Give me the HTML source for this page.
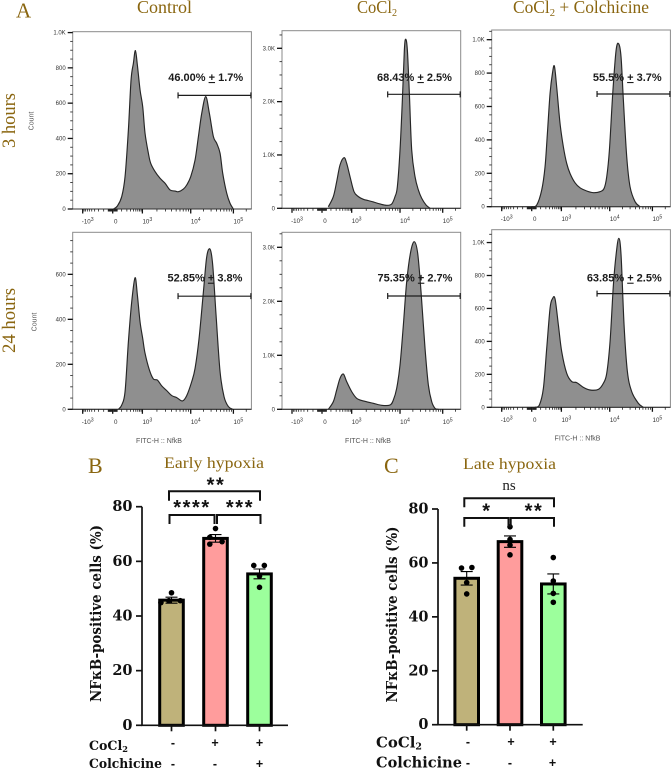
<!DOCTYPE html>
<html lang="en">
<head>
<meta charset="utf-8">
<title>NFκB flow cytometry figure</title>
<style>
html,body{margin:0;padding:0;background:#fff;width:671px;height:771px;overflow:hidden}
svg{display:block;filter:blur(0.3px)}
.head{font-family:"Liberation Serif",serif;fill:#8a6610}
.serifb{font-family:"DejaVu Serif","Liberation Serif",serif;font-weight:700;fill:#111}
.star{font-family:"Liberation Sans",sans-serif;font-weight:700;font-size:20px;letter-spacing:1.6px;fill:#111;text-anchor:middle}
.sym{font-family:"Liberation Sans",sans-serif;font-weight:700;font-size:12.5px;fill:#111;text-anchor:middle}
.small{font-family:"Liberation Sans",sans-serif;font-size:7px;fill:#555}
</style>
</head>
<body>
<svg id="figure" xmlns="http://www.w3.org/2000/svg" width="671" height="771" viewBox="0 0 671 771">
  <rect x="0" y="0" width="671" height="771" fill="#fff"/>

  <text class="head" x="16" y="17.5" font-size="21">A</text>
  <text class="head" x="137" y="13" font-size="18" textLength="55" lengthAdjust="spacingAndGlyphs">Control</text>
  <text class="head" x="357" y="13" font-size="18" textLength="40" lengthAdjust="spacingAndGlyphs">CoCl<tspan font-size="11" dy="3">2</tspan></text>
  <text class="head" x="513" y="13" font-size="18" textLength="136" lengthAdjust="spacingAndGlyphs">CoCl<tspan font-size="11" dy="3">2</tspan><tspan dy="-3"> + Colchicine</tspan></text>
  <text class="head" transform="translate(15,148) rotate(-90)" font-size="18.5" textLength="55" lengthAdjust="spacingAndGlyphs">3 hours</text>
  <text class="head" transform="translate(15,353) rotate(-90)" font-size="18.5" textLength="65" lengthAdjust="spacingAndGlyphs">24 hours</text>

  <g id="histograms">
    <text class="small" text-anchor="middle" transform="translate(33.5,121) rotate(-90)">Count</text>
    <text class="small" text-anchor="middle" transform="translate(36.5,322) rotate(-90)">Count</text>
    <text class="small" text-anchor="middle" x="159" y="443">FITC-H :: NfkB</text>
    <text class="small" text-anchor="middle" x="368" y="443">FITC-H :: NfkB</text>
    <text class="small" text-anchor="middle" x="577.5" y="440.5">FITC-H :: NfkB</text>
  </g>

  <text class="head" x="88" y="473" font-size="22">B</text>
  <text class="head" x="164" y="468" font-size="15.5" textLength="100" lengthAdjust="spacingAndGlyphs">Early hypoxia</text>
  <g id="chartB"></g>
  <text class="serifb" text-anchor="start" transform="translate(101,702) rotate(-90)" font-size="15" textLength="177" lengthAdjust="spacingAndGlyphs">NFκB-positive cells (%)</text>
  <text class="star" x="216" y="491.5">**</text>
  <text class="star" x="192" y="514">****</text>
  <text class="star" x="240" y="514">***</text>
  <text class="serifb" x="89" y="750" font-size="13" textLength="39" lengthAdjust="spacingAndGlyphs">CoCl<tspan font-size="8.5" dy="2">2</tspan></text>
  <text class="serifb" x="89" y="768" font-size="13" textLength="73" lengthAdjust="spacingAndGlyphs">Colchicine</text>
  <text class="sym" x="173" y="747">-</text>
  <text class="sym" x="215" y="747">+</text>
  <text class="sym" x="259.5" y="747">+</text>
  <text class="sym" x="173" y="768">-</text>
  <text class="sym" x="215" y="768">-</text>
  <text class="sym" x="259.5" y="768">+</text>

  <text class="head" x="384" y="473" font-size="22">C</text>
  <text class="head" x="463" y="469" font-size="15.5" textLength="93" lengthAdjust="spacingAndGlyphs">Late hypoxia</text>
  <g id="chartC"></g>
  <text class="serifb" transform="translate(397,702.5) rotate(-90)" font-size="15" textLength="176" lengthAdjust="spacingAndGlyphs">NFκB-positive cells (%)</text>
  <text x="509" y="490" text-anchor="middle" font-family="Liberation Serif, serif" font-size="15" fill="#222">ns</text>
  <text class="star" x="487" y="517.5">*</text>
  <text class="star" x="534" y="517.5">**</text>
  <text class="serifb" x="376" y="747.5" font-size="15" textLength="46" lengthAdjust="spacingAndGlyphs">CoCl<tspan font-size="9.5" dy="2">2</tspan></text>
  <text class="serifb" x="376" y="767.5" font-size="15" textLength="86" lengthAdjust="spacingAndGlyphs">Colchicine</text>
  <text class="sym" x="468" y="746">-</text>
  <text class="sym" x="511" y="746">+</text>
  <text class="sym" x="553" y="746">+</text>
  <text class="sym" x="468" y="767">-</text>
  <text class="sym" x="510" y="767">-</text>
  <text class="sym" x="552.5" y="767">+</text>
</svg>

<script>
// ---- Flow histogram data (channel 0-536 on the biexponential axis, counts per channel) ----
const channelsControl3h = [122,134,147,157,167,175,182,188,194,202,210,217,227,234,247,262,277,292,307,317,332,342,354,367,377,387,399,410,422,432,442,450,462,472,482];
const countsControl3h = [0,17,70,183,448,731,826,898,816,675,580,429,316,259,212,174,146,108,102,98,113,136,183,278,410,542,637,542,410,372,316,202,89,32,0];
const channelsCocl3h = [139,154,164,174,186,194,204,216,229,244,259,274,294,314,329,339,346,354,361,367,371,376,382,389,399,409,419,432,444];
const countsCocl3h = [30,220,500,812,950,843,594,312,219,169,144,119,81,56,81,219,406,1094,2031,2969,3170,2969,2156,1094,594,344,188,62,0];
const channelsBoth3h = [120,135,150,160,167,175,182,188,195,205,215,225,235,250,265,285,305,325,337,345,353,363,373,381,388,395,405,415,430,445];
const countsBoth3h = [0,10,100,239,438,677,796,842,716,498,358,259,199,143,113,94,84,90,109,179,338,677,935,975,896,637,299,119,30,0];
const channelsControl24h = [137,147,157,167,177,187,194,202,210,217,230,242,254,267,282,297,312,329,342,357,367,379,392,402,412,420,430,442,454,467,480];
const countsControl24h = [0,19,78,300,478,585,508,389,315,249,175,135,130,104,83,61,52,37,61,123,182,315,522,678,712,641,419,167,56,12,0];
const channelsCocl24h = [139,154,164,174,184,194,209,224,244,274,299,324,334,344,354,364,374,386,397,407,417,429,439,449,459,469];
const countsCocl24h = [0,142,358,574,654,512,327,204,154,111,74,80,173,389,820,1561,2363,2918,3103,2888,2178,1129,450,142,18,0];
const channelsBoth24h = [130,143,155,165,175,182,190,200,210,225,240,255,275,295,320,335,345,355,365,373,381,388,397,407,420,440,455];
const countsBoth24h = [0,14,115,358,601,658,658,500,338,206,156,150,121,105,109,146,206,399,743,925,1026,925,500,217,95,24,0];

const gateLowChannels = [316,317,316,316,317,316];
const gateLevels = [644,2137,675,503,2098,690];
const gateMeans = ['46.00%','68.43%','55.5%','52.85%','75.35%','63.85%'];
const gateSds = ['1.7%','2.5%','3.7%','3.8%','2.7%','2.5%'];

const xMajorChannels = [30,120,209,354,482];
const xMajorLabels = ['-10','0','10','10','10'];
const xMajorExponents = ['3','','3','4','5'];

const yTicks1K = [0,200,400,600,800,1000];
const yLabels1K = ['0','200','400','600','800','1.0K'];
const yTicks3K = [0,1000,2000,3000];
const yLabels3K = ['0','1.0K','2.0K','3.0K'];
const yTicks600 = [0,200,400,600];
const yLabels600 = ['0','200','400','600'];

// ---- Bar chart data ----
const barCategories = ['Control','CoCl2','CoCl2 + Colchicine'];
const yAxisTicks = [0,20,40,60,80];
const earlyMeans = [45.8,68.4,55.4];
const earlySems = [1.1,1.4,1.8];
const earlyDots = [[48.5,45.6,45.6,44.9],[72,68.8,67.2,66.3],[58.5,58.5,54.6,50.5]];
const earlyJitter = [[0,-0.06,0.2,-0.24],[0,-0.13,0.15,-0.13],[-0.13,0.11,0,0]];
const lateMeans = [54.3,67.9,52.2];
const lateSems = [2.5,2.1,3.7];
const lateDots = [[58.1,58.3,52.7,48.5],[73.4,68.7,66.6,63],[62,53.3,48.7,45.4]];
const lateJitter = [[-0.12,0.12,0,0],[0,0,0,0],[0,0,0,0]];

const SVGNS = 'http://www.w3.org/2000/svg';
function make(tag, attrs, parent){
  const n = document.createElementNS(SVGNS, tag);
  for (const k in attrs) n.setAttribute(k, attrs[k]);
  parent.appendChild(n);
  return n;
}

// Catmull-Rom smoothing through the measured points
function smoothPath(xy){
  let d = 'M' + xy[0][0].toFixed(2) + ' ' + xy[0][1].toFixed(2);
  for (let i = 0; i < xy.length - 1; i++){
    const p0 = xy[Math.max(i-1,0)], p1 = xy[i], p2 = xy[i+1], p3 = xy[Math.min(i+2,xy.length-1)];
    const c1x = p1[0] + (p2[0]-p0[0]) / 6, c1y = p1[1] + (p2[1]-p0[1]) / 6;
    const c2x = p2[0] - (p3[0]-p1[0]) / 6, c2y = p2[1] - (p3[1]-p1[1]) / 6;
    d += 'C' + c1x.toFixed(2) + ' ' + c1y.toFixed(2) + ' ' + c2x.toFixed(2) + ' ' + c2y.toFixed(2) + ' ' + p2[0].toFixed(2) + ' ' + p2[1].toFixed(2);
  }
  return d;
}

const panelChannels = [channelsControl3h,channelsCocl3h,channelsBoth3h,channelsControl24h,channelsCocl24h,channelsBoth24h];
const panelCounts = [countsControl3h,countsCocl3h,countsBoth3h,countsControl24h,countsCocl24h,countsBoth24h];
const panelYTicks = [yTicks1K,yTicks3K,yTicks1K,yTicks600,yTicks3K,yTicks1K];
const panelYLabels = [yLabels1K,yLabels3K,yLabels1K,yLabels600,yLabels3K,yLabels1K];

function drawPanels(){
  const root = document.getElementById('histograms');
  const frames = [
    {l:72.7,t:31.7,b:209,yMax:1005,minor:50,lx:205.7,ly:81},
    {l:282,t:30.7,b:208.3,yMax:3330,minor:250,lx:414.5,ly:81},
    {l:491.7,t:30,b:206.7,yMax:1058,minor:50,lx:627.3,ly:81},
    {l:72.7,t:232.3,b:409.3,yMax:787,minor:50,lx:205,ly:281.7},
    {l:282,t:232.3,b:409.3,yMax:3278,minor:250,lx:415,ly:281.7},
    {l:491.7,t:229.7,b:407.3,yMax:1078,minor:50,lx:624.3,ly:281.7}
  ];
  frames.forEach(function(f, i){
    const w = 178.7;
    const xScale = function(ch){ return f.l + ch / 536 * w; };
    const yScale = function(c){ return f.b - c / f.yMax * (f.b - f.t); };
    const g = make('g', {}, root);
    
    

    const frame = make('rect', {x:f.l,y:f.t,width:w,height:f.b-f.t,fill:'#fff',stroke:'#8a8a8a','stroke-width':1}, g);
    
    

    const chs = panelChannels[i], cts = panelCounts[i];
    const xy = chs.map(function(c, j){ return [xScale(c), yScale(cts[j])]; });
    const curve = smoothPath(xy);
    const area = make('path', {d:curve + 'L' + xy[xy.length-1][0].toFixed(2) + ' ' + f.b + 'L' + xy[0][0].toFixed(2) + ' ' + f.b + 'Z',fill:'#8f8f8f',stroke:'none'}, g);
    
    
    const line = make('path', {d:curve,fill:'none',stroke:'#262626','stroke-width':1.15,'stroke-linejoin':'round'}, g);
    
    

    const xAxis = make('line', {x1:f.l,x2:f.l+w,y1:f.b,y2:f.b,stroke:'#333','stroke-width':1.1}, g);
    
    

    // y ticks
    for (let v = 0; v <= f.yMax; v += f.minor){
      const mt = make('line', {x1:f.l-2.5,x2:f.l,y1:yScale(v),y2:yScale(v),stroke:'#333','stroke-width':0.9}, g);
      
      
    }
    panelYTicks[i].forEach(function(v, j){
      const t = make('line', {x1:f.l-5,x2:f.l,y1:yScale(v),y2:yScale(v),stroke:'#111','stroke-width':1.3}, g);
      
      
      const lab = make('text', {x:f.l-7,y:yScale(v)+2,'text-anchor':'end','font-family':'Liberation Sans, sans-serif','font-size':6,fill:'#333'}, g);
      lab.textContent = panelYLabels[i][j];
      
      
    });

    // x ticks
    const minors = [];
    [[209,354],[354,482],[482,610]].forEach(function(d){
      for (let k = 2; k <= 9; k++) minors.push(d[0] + (d[1]-d[0]) * Math.log10(k));
    });
    for (let k = 2; k <= 9; k++){
      minors.push(120 + 89 * Math.log10(k));
      minors.push(120 - 90 * Math.log10(k));
      minors.push(120 + 1.5 * k);
      minors.push(120 - 1.5 * k);
    }
    minors.filter(function(c){ return c <= 530; }).forEach(function(c){
      const mt = make('line', {x1:xScale(c),x2:xScale(c),y1:f.b,y2:f.b+2.5,stroke:'#222','stroke-width':0.8}, g);
      
      
    });
    xMajorChannels.forEach(function(c, j){
      const t = make('line', {x1:xScale(c),x2:xScale(c),y1:f.b,y2:f.b+4.5,stroke:'#111','stroke-width':1.3}, g);
      
      
      const lab = make('text', {x:xScale(c)+(j===1?3:5),y:f.b+14.5,'text-anchor':'middle','font-family':'Liberation Sans, sans-serif','font-size':6.2,fill:'#333'}, g);
      lab.textContent = xMajorLabels[j];
      
      
      if (xMajorExponents[j]){
        const sup = make('tspan', {dy:-2.5,'font-size':5.2}, lab);
        sup.textContent = xMajorExponents[j];
      }
    });

    // gate
    const gy = yScale(gateLevels[i]);
    const gl = xScale(gateLowChannels[i]), gr = f.l + w - 0.5;
    const gate = make('path', {d:'M'+gl+' '+(gy-3)+'V'+(gy+3)+'M'+gl+' '+gy+'H'+gr+'M'+gr+' '+(gy-3)+'V'+(gy+3),fill:'none',stroke:'#1c1c1c','stroke-width':1.2}, g);
    
    

    const label = make('text', {x:f.lx,y:f.ly,'text-anchor':'middle','font-family':'Liberation Sans, sans-serif','font-size':11,'font-weight':700,fill:'#1c1c1c'}, g);
    
    
    const a = make('tspan', {}, label);
    a.textContent = gateMeans[i] + ' ';
    const b = make('tspan', {'text-decoration':'underline'}, label);
    b.textContent = '+';
    const c = make('tspan', {}, label);
    c.textContent = ' ' + gateSds[i];
  });
}

function drawBars(cfg){
  const root = document.getElementById(cfg.id);
  const yScale = function(v){ return cfg.y0 - v / 80 * (cfg.y0 - cfg.y80); };
  const xScale = function(i){ return cfg.x0 + i * cfg.step; };

  barCategories.forEach(function(name, i){
    const bar = make('rect', {x:xScale(i)-cfg.barW/2,y:yScale(cfg.means[i]),width:cfg.barW,height:cfg.y0-yScale(cfg.means[i]),fill:cfg.colors[i],stroke:'#000','stroke-width':3}, root);
    
    
  });

  barCategories.forEach(function(name, i){
    const hi = yScale(cfg.means[i] + cfg.sems[i]), lo = yScale(cfg.means[i] - cfg.sems[i]), cx = xScale(i);
    const err = make('path', {d:'M'+cx+' '+hi+'V'+lo+'M'+(cx-6)+' '+hi+'H'+(cx+6)+'M'+(cx-6)+' '+lo+'H'+(cx+6),fill:'none',stroke:'#000','stroke-width':1.1}, root);
    
    
    cfg.dots[i].forEach(function(v, j){
      const dot = make('circle', {cx:cx+cfg.jitter[i][j]*cfg.step,cy:yScale(v),r:2.8,fill:'#000'}, root);
      
      
    });
  });

  const axis = make('path', {d:'M'+cfg.axisX+' '+cfg.y80+'V'+cfg.y0+'H'+cfg.axisEnd,fill:'none',stroke:'#111','stroke-width':1.7}, root);
  
  

  yAxisTicks.forEach(function(v){
    const t = make('line', {x1:cfg.axisX-6,x2:cfg.axisX,y1:yScale(v),y2:yScale(v),stroke:'#111','stroke-width':1.7}, root);
    
    
    const lab = make('text', {x:cfg.axisX-9.5,y:yScale(v)+4.5,'text-anchor':'end','class':'serifb','font-size':14.5}, root);
    lab.textContent = String(v);
    
    
  });
  barCategories.forEach(function(name, i){
    const t = make('line', {x1:xScale(i),x2:xScale(i),y1:cfg.y0,y2:cfg.y0+6,stroke:'#111','stroke-width':1.7}, root);
    
    
  });

  cfg.brackets.forEach(function(d){
    const br = make('path', {d:d,fill:'none',stroke:'#111','stroke-width':2}, root);
    
    
  });
}

drawPanels();
drawBars({id:'chartB',y0:725.3,y80:506.7,x0:171.5,step:44,barW:23.6,axisX:142,axisEnd:288,
  means:earlyMeans,sems:earlySems,dots:earlyDots,jitter:earlyJitter,
  colors:['#bfb27a','#ff9c9c','#9cff9c'],
  brackets:['M169 500.7V491.3H260V500.7','M169.5 524V515H214.5V524','M217 524V515H260.5V524']});
drawBars({id:'chartC',y0:724.7,y80:509,x0:466.7,step:43.3,barW:23.6,axisX:438,axisEnd:582.7,
  means:lateMeans,sems:lateSems,dots:lateDots,jitter:lateJitter,
  colors:['#bfb27a','#ff9c9c','#9cff9c'],
  brackets:['M464.3 507.3V498.3H554V507.3','M464.3 526.7V518H508.5V526.7','M510.7 526.7V518H554V526.7']});
</script>
</body>
</html>
